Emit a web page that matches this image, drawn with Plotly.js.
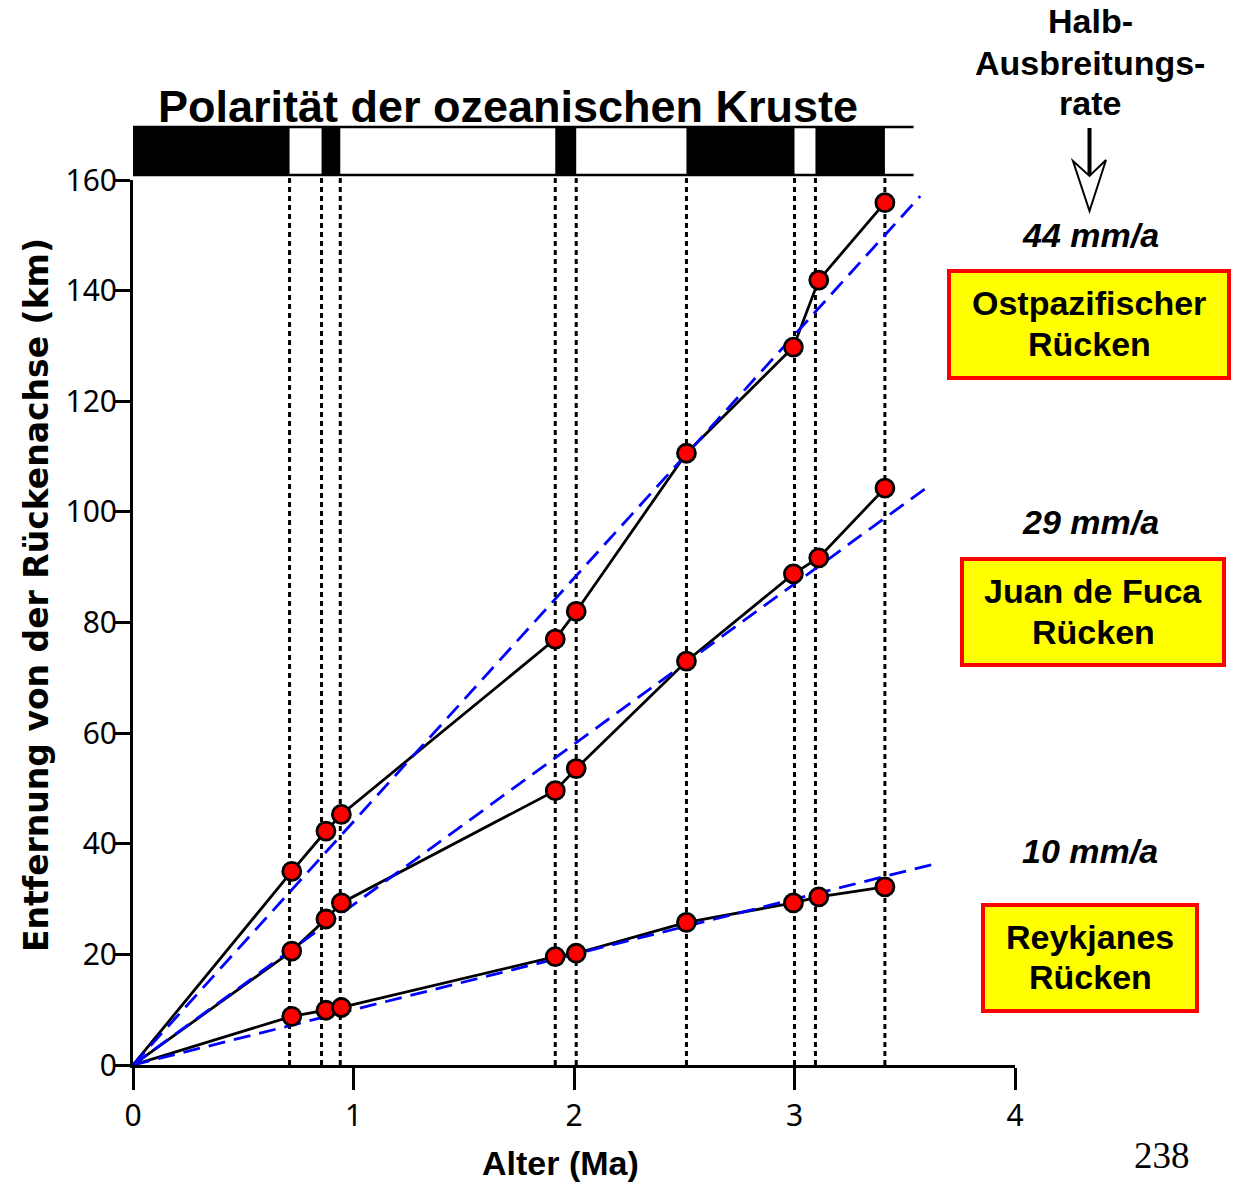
<!DOCTYPE html>
<html>
<head>
<meta charset="utf-8">
<script src="https://cdn.plot.ly/plotly-3.0.1.min.js"></script>
<style>
  html, body { margin: 0; padding: 0; background: #fff; }
  #chart { width: 1238px; height: 1183px; }
</style>
</head>
<body>
<div id="chart"></div>
<script>
// Ages of the dated crust samples (Ma)
const sampleAges = [0.72, 0.875, 0.945, 1.915, 2.01, 2.51, 2.995, 3.11, 3.41];

// Distance from the ridge axis (km) for each ridge
const eastPacific = [35.0, 42.3, 45.3, 77.0, 82.0, 110.6, 129.8, 141.9, 155.9];
const juanDeFuca  = [20.6, 26.4, 29.3, 49.6, 53.6, 73.0, 88.8, 91.7, 104.3];
const reykjanes   = [8.8, 9.9, 10.4, 19.6, 20.2, 25.8, 29.3, 30.4, 32.2];

// Half spreading rates (mm/a = km/Ma) and the age where each fit line stops
const halfRates = [44, 29, 10];
const fitEnds = [3.57, 3.62, 3.62];
const ridgeNames = [['Ostpazifischer', 'Rücken'], ['Juan de Fuca', 'Rücken'], ['Reykjanes', 'Rücken']];
const rateHeading = ['Halb-', 'Ausbreitungs-', 'rate'];

// Magnetic polarity reversals (Ma); the stripe starts with normal polarity at 0
const reversalAges = [0.71, 0.855, 0.94, 1.915, 2.01, 2.51, 3.0, 3.095, 3.41];
const stripeEnd = 3.54;

const xTicks = [0, 1, 2, 3, 4];
const yTicks = [0, 20, 40, 60, 80, 100, 120, 140, 160];

// Page geometry (pixels) and helpers for paper coordinates
const W = 1238, H = 1183;
const L = 133, R = 1015, T = 180, B = 1065;
const px = x => (x - L) / (R - L);
const py = y => (B - y) / (B - T);

const boldSans = 'Liberation Sans, Arial, Helvetica, sans-serif';

const series = [eastPacific, juanDeFuca, reykjanes];
const traces = [];

// Connecting lines from the origin through the samples
series.forEach(vals => {
  traces.push({
    x: [0].concat(sampleAges), y: [0].concat(vals),
    mode: 'lines', line: {color: '#000', width: 2.8},
    hoverinfo: 'skip', showlegend: false
  });
});

// Straight lines for the mean half spreading rates
halfRates.forEach((rate, i) => {
  traces.push({
    x: [0, fitEnds[i]], y: [0, rate * fitEnds[i]],
    mode: 'lines', line: {color: '#0000ff', width: 2.8, dash: '17px,9px'},
    hoverinfo: 'skip', showlegend: false
  });
});

// Sample markers
series.forEach(vals => {
  traces.push({
    x: sampleAges, y: vals, mode: 'markers',
    marker: {color: '#ff0000', size: 18, line: {color: '#000', width: 2.8}},
    showlegend: false, cliponaxis: false
  });
});

const shapes = [];
const stripeBottom = py(175), stripeTop = py(127);

// Polarity stripe: black = normal, white = reversed
const bounds = [0].concat(reversalAges, [stripeEnd]);
for (let i = 0; i < bounds.length - 1; i += 2) {
  shapes.push({
    type: 'rect', xref: 'x', yref: 'paper',
    x0: bounds[i], x1: bounds[i + 1], y0: stripeBottom, y1: stripeTop,
    fillcolor: '#000', line: {width: 0}
  });
}
[stripeBottom, stripeTop].forEach(yy => {
  shapes.push({
    type: 'line', xref: 'x', yref: 'paper',
    x0: 0, x1: stripeEnd, y0: yy, y1: yy,
    line: {color: '#000', width: 2.5}
  });
});

// Dotted guides at each reversal
reversalAges.forEach(a => {
  shapes.push({
    type: 'line', xref: 'x', yref: 'paper', layer: 'below',
    x0: a, x1: a, y0: 0, y1: stripeBottom,
    line: {color: '#000', width: 3, dash: '5px,4px'}
  });
});

// Arrow under the "Halb-Ausbreitungsrate" heading
shapes.push({
  type: 'line', xref: 'paper', yref: 'paper',
  x0: px(1089.5), x1: px(1089.5), y0: py(128), y1: py(176),
  line: {color: '#000', width: 4}
});
const headPts = [[1089.5, 211], [1073, 161], [1089.5, 176], [1106, 160]];
shapes.push({
  type: 'path', xref: 'paper', yref: 'paper',
  path: 'M' + headPts.map(p => px(p[0]) + ',' + py(p[1])).join(' L') + ' Z',
  fillcolor: '#fff', line: {color: '#000', width: 2}
});

// Ridge name boxes
const boxes = [[949, 271, 1229, 378], [962, 559, 1224, 665], [983, 905, 1197, 1011]];
boxes.forEach(b => {
  shapes.push({
    type: 'rect', xref: 'paper', yref: 'paper',
    x0: px(b[0]), x1: px(b[2]), y0: py(b[3]), y1: py(b[1]),
    fillcolor: '#ffff00', line: {color: '#ff0000', width: 4}
  });
});

const annotations = [];
const note = (text, x, y, font, extra) => Object.assign({
  text: text, xref: 'paper', yref: 'paper', x: px(x), y: py(y),
  xanchor: 'center', yanchor: 'middle', showarrow: false, font: font
}, extra || {});

const sideFont = {family: boldSans, size: 34, color: '#000', weight: 700};

const headingY = [21, 63, 103];
rateHeading.forEach((t, i) => annotations.push(note(t, 1090, headingY[i], sideFont)));

const rateY = [235, 522, 851];
const nameLines = [[1089, [303, 344]], [1093, [591, 632]], [1090, [937, 977]]];
halfRates.forEach((rate, i) => {
  annotations.push(note(rate + ' mm/a', 1090, rateY[i],
    Object.assign({}, sideFont, {style: 'italic'})));
  ridgeNames[i].forEach((t, j) => {
    annotations.push(note(t, nameLines[i][0], nameLines[i][1][j], sideFont));
  });
});

// Axis titles
annotations.push(note('Entfernung von der Rückenachse (km)', 36, 595,
  {family: 'DejaVu Sans, sans-serif', size: 33, color: '#000', weight: 700},
  {textangle: -90}));
annotations.push(note('Alter (Ma)', 560, 1163,
  {family: boldSans, size: 34, color: '#000', weight: 700}));

// Page number
annotations.push(note('238', 1162, 1155,
  {family: 'Liberation Serif, Times New Roman, serif', size: 37, color: '#000'}));

const layout = {
  width: W, height: H,
  margin: {l: L, r: W - R, t: T, b: H - B, pad: 0},
  paper_bgcolor: '#fff', plot_bgcolor: '#fff',
  title: {
    text: 'Polarität der ozeanischen Kruste',
    font: {family: boldSans, size: 45, color: '#000', weight: 700},
    x: 508 / W, y: 1 - 106 / H, xanchor: 'center', yanchor: 'middle'
  },
  xaxis: {
    range: [0, 4], tickvals: xTicks, ticktext: xTicks.map(String),
    showline: true, linecolor: '#000', linewidth: 3,
    ticks: 'outside', ticklen: 22, tickwidth: 3, tickcolor: '#000',
    showgrid: false, zeroline: false,
    tickfont: {family: 'Noto Sans, sans-serif', size: 30, color: '#000'}
  },
  yaxis: {
    range: [0, 160], tickvals: yTicks, ticktext: yTicks.map(String),
    showline: true, linecolor: '#000', linewidth: 3,
    ticks: 'outside', ticklen: 15, tickwidth: 3, tickcolor: '#000',
    showgrid: false, zeroline: false, ticklabelstandoff: -8,
    tickfont: {family: 'Noto Sans, sans-serif', size: 30, color: '#000'}
  },
  shapes: shapes,
  annotations: annotations,
  showlegend: false
};

Plotly.newPlot('chart', traces, layout, {displayModeBar: false, staticPlot: true});
</script>
</body>
</html>
